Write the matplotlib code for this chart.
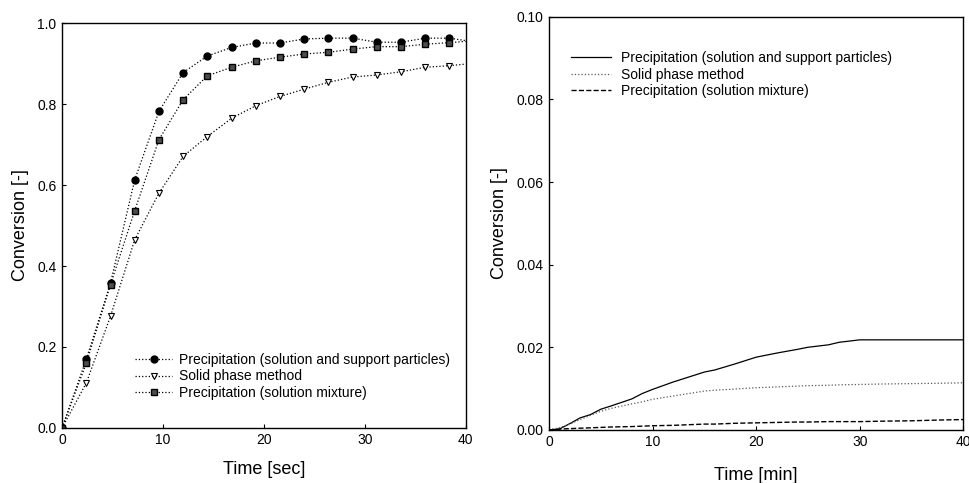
import matplotlib
matplotlib.use("Agg")
import matplotlib.pyplot as plt

plt.rcParams['font.family'] = ['Liberation Sans', 'DejaVu Sans']

# left panel: conversion vs time [sec]
t_sec = [0, 2.4, 4.8, 7.2, 9.6, 12.0, 14.4, 16.8, 19.2, 21.6, 24.0, 26.4, 28.8, 31.2, 33.6, 36.0, 38.4, 40.0]
conv_support = [0.0, 0.170, 0.358, 0.613, 0.782, 0.878, 0.919, 0.940, 0.951, 0.951, 0.961, 0.963, 0.963, 0.953, 0.953, 0.963, 0.963, 0.957]
conv_solid = [0.0, 0.111, 0.276, 0.465, 0.580, 0.671, 0.720, 0.765, 0.796, 0.819, 0.837, 0.854, 0.867, 0.872, 0.880, 0.891, 0.895, 0.899]
conv_mixture = [0.0, 0.160, 0.354, 0.537, 0.712, 0.811, 0.870, 0.891, 0.907, 0.916, 0.924, 0.928, 0.936, 0.942, 0.942, 0.948, 0.952, 0.955]

# right panel: conversion vs time [min]
t_min = [0, 1, 2, 3, 4, 5, 6, 8, 9, 10, 12, 14, 15, 16, 18, 20, 22, 24, 25, 27, 28, 30, 32, 35, 38, 40]
conv2_support = [0.0, 0.0002, 0.0015, 0.0029, 0.0037, 0.0050, 0.0058, 0.0075, 0.0088, 0.0098, 0.0116, 0.0132, 0.0140, 0.0145, 0.0160, 0.0176, 0.0186, 0.0195, 0.0200, 0.0206, 0.0212, 0.0218, 0.0218, 0.0218, 0.0218, 0.0218]
conv2_solid = [0.0, 0.0005, 0.0014, 0.0025, 0.0035, 0.0045, 0.0052, 0.0063, 0.0068, 0.0074, 0.0082, 0.0090, 0.0094, 0.0096, 0.0099, 0.0102, 0.0104, 0.0106, 0.0107, 0.0108, 0.0109, 0.0110, 0.0111, 0.0112, 0.0113, 0.0114]
conv2_mixture = [0.0, 0.0002, 0.0003, 0.0004, 0.0005, 0.0006, 0.0007, 0.0008, 0.0009, 0.0010, 0.0011, 0.0013, 0.0014, 0.0014, 0.0016, 0.0017, 0.0018, 0.0019, 0.0019, 0.0020, 0.0020, 0.0020, 0.0021, 0.0022, 0.0024, 0.0025]

labels = ['Precipitation (solution and support particles)',
          'Solid phase method',
          'Precipitation (solution mixture)']

fig = plt.figure(figsize=(9.7, 4.83), dpi=100)
ax1 = fig.add_axes([0.064, 0.114, 0.416, 0.838])
ax2 = fig.add_axes([0.566, 0.110, 0.427, 0.855])

marks = list(range(len(t_sec) - 1))
ax1.plot(t_sec, conv_support, ls=':', lw=0.9, color='k', marker='o', ms=5,
         mfc='k', mec='k', markevery=marks, label=labels[0])
ax1.plot(t_sec, conv_solid, ls=':', lw=0.9, color='k', marker='v', ms=5,
         mfc='white', mec='k', mew=0.8, markevery=marks, label=labels[1])
ax1.plot(t_sec, conv_mixture, ls=':', lw=0.9, color='k', marker='s', ms=4.5,
         mfc='0.3', mec='k', markevery=marks, label=labels[2])

ax1.set_xlim(0, 40)
ax1.set_ylim(0, 1.0)
ax1.set_xticks([0, 10, 20, 30, 40])
ax1.set_yticks([0.0, 0.2, 0.4, 0.6, 0.8, 1.0])
ax1.set_xlabel('Time [sec]', fontsize=13, labelpad=10)
ax1.set_ylabel('Conversion [-]', fontsize=13, labelpad=6)
ax1.legend(loc='upper left', bbox_to_anchor=(0.132, 0.284), bbox_transform=fig.transFigure,
           frameon=False, borderpad=0, fontsize=10, handlelength=2.7,
           handletextpad=0.5, labelspacing=0.19)

ax2.plot(t_min, conv2_support, ls='-', lw=0.9, color='k', label=labels[0])
ax2.plot(t_min, conv2_solid, ls=':', lw=0.9, color='0.35', label=labels[1])
ax2.plot(t_min, conv2_mixture, ls='--', lw=1.0, color='k', label=labels[2])

ax2.set_xlim(0, 40)
ax2.set_ylim(0, 0.10)
ax2.set_xticks([0, 10, 20, 30, 40])
ax2.set_yticks([0.00, 0.02, 0.04, 0.06, 0.08, 0.10])
ax2.set_yticklabels(['0.00', '0.02', '0.04', '0.06', '0.08', '0.10'])
ax2.set_xlabel('Time [min]', fontsize=13, labelpad=13)
ax2.set_ylabel('Conversion [-]', fontsize=13, labelpad=6)
ax2.legend(loc='upper left', bbox_to_anchor=(0.581, 0.909), bbox_transform=fig.transFigure,
           frameon=False, borderpad=0, fontsize=10, handlelength=2.9,
           handletextpad=0.7, labelspacing=0.19)

for ax in (ax1, ax2):
    ax.tick_params(direction='in', length=3, width=0.8, labelsize=10, pad=4)
    for s in ax.spines.values():
        s.set_linewidth(1.0)

fig.savefig('out.png', dpi=100)
